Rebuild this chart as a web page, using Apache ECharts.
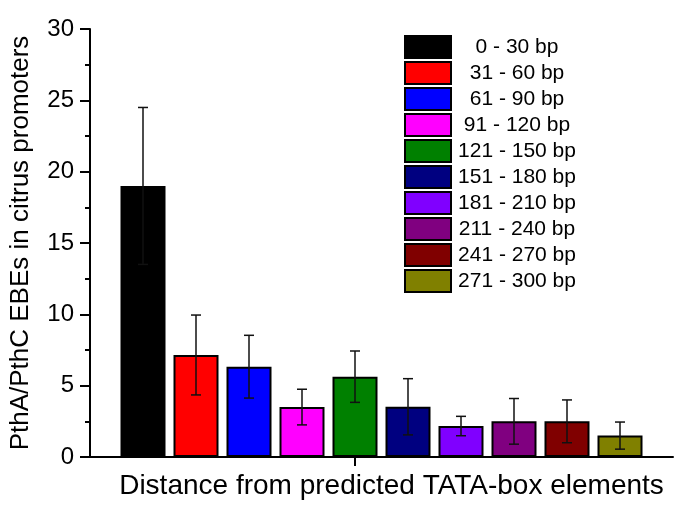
<!DOCTYPE html>
<html>
<head>
<meta charset="utf-8">
<script src="https://cdn.jsdelivr.net/npm/echarts@6/dist/echarts.min.js"></script>
<style>html,body{margin:0;padding:0;background:#fff}#c{width:685px;height:514px}</style>
</head>
<body>
<div id="c"></div>
<script>
var categories = ['0 - 30 bp','31 - 60 bp','61 - 90 bp','91 - 120 bp','121 - 150 bp','151 - 180 bp','181 - 210 bp','211 - 240 bp','241 - 270 bp','271 - 300 bp'];
var positions = [1,2,3,4,5,6,7,8,9,10];
var values = [19.0, 7.15, 6.33, 3.5, 5.63, 3.52, 2.17, 2.5, 2.5, 1.5];
var errors = [5.5, 2.8, 2.2, 1.25, 1.8, 1.97, 0.68, 1.6, 1.5, 0.95];
var colors = ['#000000','#FF0000','#0000FF','#FF00FF','#008000','#000080','#8000FF','#800080','#800000','#808000'];
var yTicks = [0,5,10,15,20,25,30];

var chart = echarts.init(document.getElementById('c'), null, {renderer:'canvas'});
var series = categories.map(function(name, i){
  return {
    name: name, type: 'bar', barWidth: 45, barGap: '-100%',
    itemStyle: {color: colors[i], borderColor: '#000', borderWidth: 2},
    data: [[positions[i], values[i]]], z: 2
  };
});
series.push({
  type: 'custom', z: 5,
  data: positions.map(function(p, i){ return [p, values[i]-errors[i], values[i]+errors[i]]; }),
  renderItem: function(params, api){
    var lo = api.coord([api.value(0), api.value(1)]);
    var hi = api.coord([api.value(0), api.value(2)]);
    var hw = 5;
    var st = {stroke:'#111', lineWidth:1.5};
    return {type:'group', children:[
      {type:'line', shape:{x1:hi[0], y1:hi[1], x2:lo[0], y2:lo[1]}, style:st},
      {type:'line', shape:{x1:hi[0]-hw, y1:hi[1], x2:hi[0]+hw, y2:hi[1]}, style:st},
      {type:'line', shape:{x1:lo[0]-hw, y1:lo[1], x2:lo[0]+hw, y2:lo[1]}, style:st}
    ]};
  }
});
chart.setOption({
  animation: false,
  backgroundColor: '#fff',
  grid: {left: 90, right: 12, top: 29, bottom: 57},
  legend: {
    orient: 'vertical', left: 404, top: 35, padding: 0,
    itemWidth: 46, itemHeight: 22, itemGap: 2,
    icon: 'rect',
    data: categories,
    formatter: function(n){ return '{a|' + n + '}'; },
    textStyle: {color:'#000', fontSize: 21, lineHeight: 24, fontFamily: 'Liberation Sans, Arial, sans-serif',
      rich: {a: {width: 122, align: 'center', fontSize: 21, lineHeight: 24, fontFamily: 'Liberation Sans, Arial, sans-serif'}}}
  },
  xAxis: {
    type: 'value', min: 0, max: 11,
    name: 'Distance from predicted TATA-box elements',
    nameLocation: 'middle', nameGap: 15,
    nameTextStyle: {color:'#000', fontSize: 28, fontFamily: 'Liberation Sans, Arial, sans-serif', padding:[0,0,0,20]},
    axisLine: {show: true, lineStyle: {color:'#000', width: 2}},
    axisTick: {show: true, customValues: [5], length: 9, lineStyle:{color:'#000', width:2}},
    axisLabel: {show: false},
    splitLine: {show: false}
  },
  yAxis: {
    type: 'value', min: 0, max: 30, interval: 5,
    name: 'PthA/PthC EBEs in citrus promoters',
    nameLocation: 'middle', nameGap: 56, nameRotate: 90,
    nameTextStyle: {color:'#000', fontSize: 26, fontFamily: 'Liberation Sans, Arial, sans-serif'},
    axisLine: {show: true, lineStyle: {color:'#000', width: 2}},
    axisTick: {show: true, length: 10, lineStyle:{color:'#000', width: 2}},
    minorTick: {show: true, splitNumber: 2, length: 5, lineStyle:{color:'#000', width: 2}},
    axisLabel: {color:'#000', fontSize: 24, margin: 16, fontFamily: 'Liberation Sans, Arial, sans-serif',
      formatter: function(v){ return yTicks.indexOf(v) >= 0 ? String(v) : ''; }},
    splitLine: {show: false}
  },
  series: series
});
</script>
</body>
</html>
